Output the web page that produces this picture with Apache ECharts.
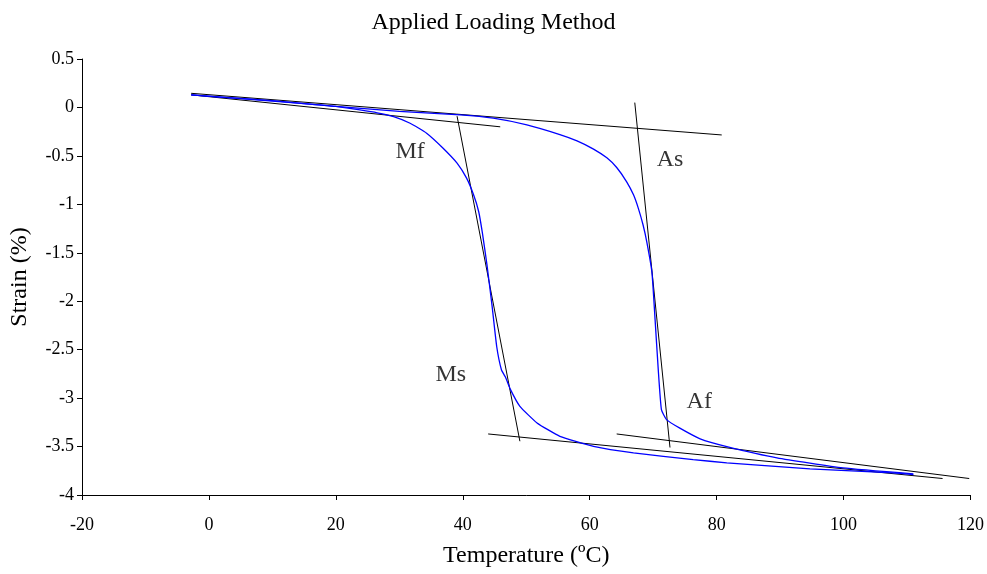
<!DOCTYPE html>
<html>
<head>
<meta charset="utf-8">
<script src="https://cdn.jsdelivr.net/npm/echarts@6/dist/echarts.min.js"></script>
<style>
html,body{margin:0;padding:0;background:#fff;}
#chart{width:987px;height:574px;}
</style>
</head>
<body>
<div id="chart"></div>
<script>
// Cooling branch (Mf / Ms transformation): [temperature °C, strain %]
const coolingCurve = [
  [-2.8, 0.13], [5, 0.09], [10, 0.065], [15, 0.04], [20, 0.01], [23.8, -0.026],
  [26.5, -0.055], [29.1, -0.095], [31.7, -0.163], [34.3, -0.266], [36.9, -0.421],
  [39.1, -0.575], [40.6, -0.73], [41.7, -0.902], [42.5, -1.074], [43.1, -1.3],
  [43.8, -1.62], [44.6, -2.04], [45.35, -2.47], [46.1, -2.71], [46.7, -2.78],
  [47.5, -2.91], [49.0, -3.085], [51.7, -3.256], [55.3, -3.394], [60.6, -3.497],
  [66.9, -3.565], [76.3, -3.634], [81.6, -3.668], [94.7, -3.73], [107.8, -3.771],
  [111, -3.789]
];
// Heating branch (As / Af transformation)
const heatingCurve = [
  [-2.8, 0.13], [10, 0.07], [20, 0.01], [30, -0.04], [39.6, -0.077], [44.8, -0.111],
  [50.1, -0.18], [55.3, -0.28], [58.0, -0.345], [60.6, -0.43], [62.7, -0.52],
  [64.25, -0.62], [65.8, -0.765], [66.9, -0.902], [67.65, -1.039], [68.4, -1.211],
  [69.0, -1.39], [69.8, -1.7], [70.3, -2.19], [70.8, -2.706], [71.3, -3.119],
  [72.1, -3.222], [74.2, -3.31], [77.4, -3.42], [81.6, -3.5], [89.5, -3.616],
  [99.9, -3.719], [111, -3.781]
];
// Tangent construction lines
const tangentTop = [[-2.8, 0.146], [80.8, -0.284]];
const tangentMf = [[-2.8, 0.13], [45.9, -0.2]];
const tangentMsSteep = [[39.1, -0.09], [49.0, -3.445]];
const tangentAsSteep = [[67.1, 0.05], [72.65, -3.51]];
const tangentMsBottom = [[44.0, -3.37], [115.6, -3.83]];
const tangentAfBottom = [[64.25, -3.37], [119.8, -3.83]];
// Transformation temperature labels
const annotationNames = ['Mf', 'As', 'Ms', 'Af'];
const annotationPoints = [[31.7, -0.456], [72.65, -0.541], [38.1, -2.758], [77.26, -3.033]];

const FONT = '"Times New Roman", "Liberation Serif", serif';

const tangents = [tangentTop, tangentMf, tangentMsSteep, tangentAsSteep, tangentMsBottom, tangentAfBottom];

const series = [];
tangents.forEach(function (t) {
  series.push({
    type: 'line', data: t, symbol: 'none', silent: true,
    lineStyle: { color: '#000', width: 1 }, z: 2
  });
});
[coolingCurve, heatingCurve].forEach(function (c) {
  series.push({
    type: 'line', data: c, symbol: 'none', smooth: 0.15, silent: true,
    lineStyle: { color: '#0000ff', width: 1.3 }, z: 3
  });
});
series.push({
  type: 'scatter', symbolSize: 0, silent: true,
  data: annotationNames.map(function (n, i) { return { name: n, value: annotationPoints[i] }; }),
  label: {
    show: true, position: 'inside', formatter: function (p) { return p.name; },
    color: '#000', fontFamily: FONT, fontSize: 24
  },
  z: 4
});

const chart = echarts.init(document.getElementById('chart'));
chart.setOption({
  animation: false,
  backgroundColor: '#fff',
  title: {
    text: 'Applied Loading Method', left: 'center', top: 6,
    textStyle: { fontFamily: FONT, fontSize: 24, fontWeight: 'normal', color: '#000' }
  },
  grid: { left: 82, right: 16, top: 59, bottom: 79 },
  xAxis: {
    type: 'value', min: -20, max: 120, interval: 20,
    name: 'Temperature (ºC)', nameLocation: 'middle', nameGap: 49,
    nameTextStyle: { fontFamily: FONT, fontSize: 24, color: '#000' },
    axisLine: { show: true, onZero: false, lineStyle: { color: '#000', width: 1 } },
    axisTick: { show: true, length: 5, lineStyle: { color: '#000' } },
    axisLabel: { fontFamily: FONT, fontSize: 18, color: '#000', margin: 21 },
    splitLine: { show: false }
  },
  yAxis: {
    type: 'value', min: -4, max: 0.5, interval: 0.5,
    name: 'Strain (%)', nameLocation: 'middle', nameGap: 50,
    nameTextStyle: { fontFamily: FONT, fontSize: 24, color: '#000' },
    axisLine: { show: true, onZero: false, lineStyle: { color: '#000', width: 1 } },
    axisTick: { show: true, length: 5, lineStyle: { color: '#000' } },
    axisLabel: { fontFamily: FONT, fontSize: 18, color: '#000', margin: 8 },
    splitLine: { show: false }
  },
  series: series
});
</script>
</body>
</html>
